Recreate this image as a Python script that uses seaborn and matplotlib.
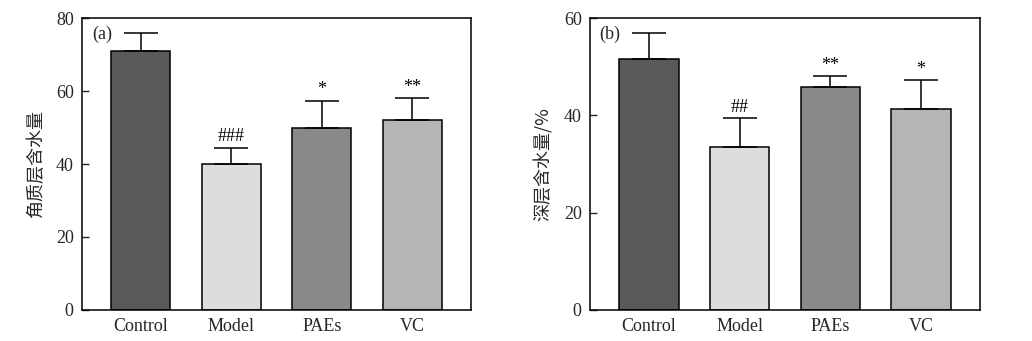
import matplotlib
matplotlib.use("Agg")
import matplotlib.pyplot as plt
import seaborn as sns
import numpy as np
import pandas as pd

categories = ["Control", "Model", "PAEs", "VC"]
colors = ["#595959", "#dcdddd", "#898989", "#b5b5b5"]

a_values = [71.0, 40.0, 49.8, 52.2]
a_errors = [5.0, 4.5, 7.6, 5.8]
a_marks = ["", "###", "*", "**"]

b_values = [51.6, 33.6, 45.8, 41.3]
b_errors = [5.3, 5.8, 2.3, 5.9]
b_marks = ["", "##", "**", "*"]

sns.set_theme(style="white")
plt.rcParams['font.family'] = ['Liberation Serif', 'Noto Sans CJK SC', 'DejaVu Sans']

fig = plt.figure(figsize=(10.32, 3.41), dpi=100)
ax_a = fig.add_axes([0.0795, 0.091, 0.377, 0.856])
ax_b = fig.add_axes([0.5717, 0.091, 0.378, 0.856])


def panel(ax, values, errors, marks, ymax, yticks, ylabel, tag):
    df = pd.DataFrame({"cat": categories, "val": values})
    sns.barplot(data=df, x="cat", y="val", hue="cat", palette=colors,
                order=categories, hue_order=categories, legend=False,
                width=0.655, edgecolor="black", linewidth=1.1, ax=ax,
                errorbar=None, saturation=1)
    x = np.arange(len(categories))
    ax.errorbar(x, values, yerr=[np.zeros(len(values)), errors], fmt="none",
                ecolor="black", elinewidth=1.1, capsize=12, capthick=1.1, zorder=3)
    for xi, v, e, m in zip(x, values, errors, marks):
        if m:
            ax.text(xi, v + e + ymax * 0.008, m, ha="center", va="bottom",
                    fontsize=13, color="black")
    ax.set_xlim(-0.65, 3.65)
    ax.set_ylim(0, ymax)
    ax.set_yticks(yticks)
    ax.set_yticklabels([str(t) for t in yticks])
    ax.set_xlabel("")
    ax.set_ylabel(ylabel, fontsize=13, family=['Noto Sans CJK SC', 'Liberation Serif'],
                  labelpad=8)
    ax.tick_params(axis="y", direction="in", length=5, width=1, labelsize=13, left=True, pad=6)
    ax.tick_params(axis="x", length=0, labelsize=13, pad=6)
    for s in ax.spines.values():
        s.set_visible(True)
        s.set_color("black")
        s.set_linewidth(1.1)
    ax.text(0.025, 0.975, tag, transform=ax.transAxes, ha="left", va="top", fontsize=13)


panel(ax_a, a_values, a_errors, a_marks, 80, [0, 20, 40, 60, 80], "角质层含水量", "(a)")
panel(ax_b, b_values, b_errors, b_marks, 60, [0, 20, 40, 60], "深层含水量/%", "(b)")

fig.savefig("out.png", dpi=100)
